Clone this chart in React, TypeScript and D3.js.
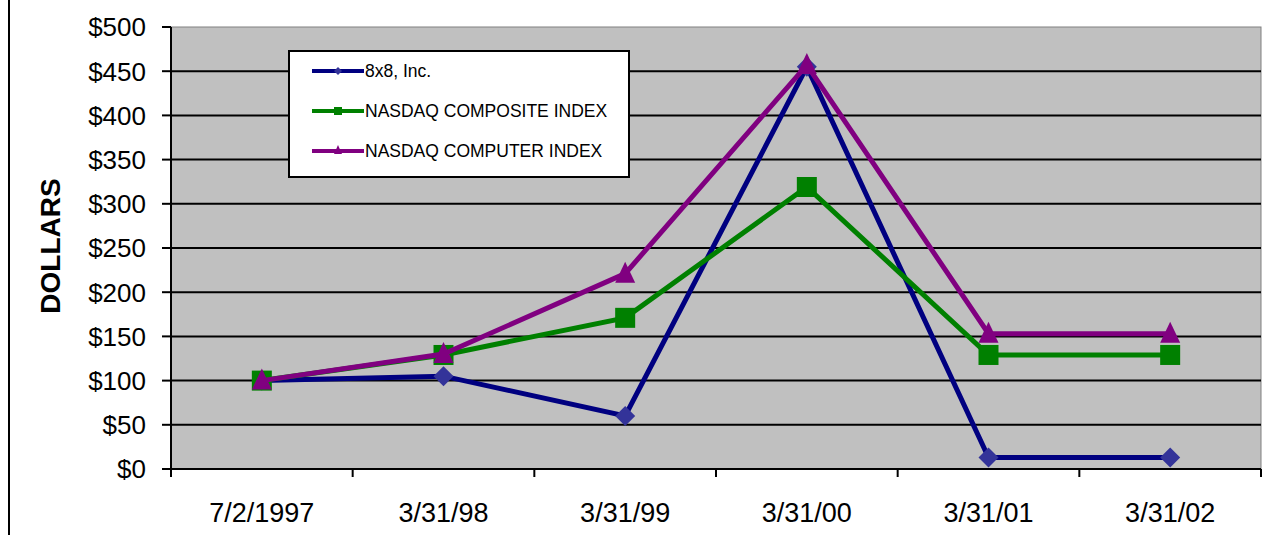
import React from "react";
import * as d3 from "d3";

const categories = ["7/2/1997", "3/31/98", "3/31/99", "3/31/00", "3/31/01", "3/31/02"];
const eightByEight = [100, 105, 60, 455, 13, 13];
const nasdaqComposite = [100, 129, 171, 319, 129, 129];
const nasdaqComputer = [100, 130, 221, 457, 153, 153];
const yTicks = [0, 50, 100, 150, 200, 250, 300, 350, 400, 450, 500];
const seriesNames = ["8x8, Inc.", "NASDAQ COMPOSITE INDEX", "NASDAQ COMPUTER INDEX"];

const W = 1265, H = 535;
const L = 171, R = 1261, T = 27, B = 469;

export default function App() {
  const x = d3.scaleBand().domain(categories).range([L, R]);
  const y = d3.scaleLinear().domain([0, 500]).range([B, T]);
  const line = d3.line<number>().x((_, i) => x(categories[i])! + x.bandwidth() / 2).y(d => y(d));
  const series = [
    { name: seriesNames[0], data: eightByEight, color: "#000080", marker: "diamond", fill: "#333399" },
    { name: seriesNames[1], data: nasdaqComposite, color: "#008000", marker: "square", fill: "#008000" },
    { name: seriesNames[2], data: nasdaqComputer, color: "#800080", marker: "triangle", fill: "#800080" },
  ];
  const marker = (type: string, cx: number, cy: number, fill: string, s = 10) => {
    if (type === "diamond") return <path d={`M${cx},${cy - s} L${cx + s},${cy} L${cx},${cy + s} L${cx - s},${cy} Z`} fill={fill} />;
    if (type === "square") return <rect x={cx - s} y={cy - s} width={2 * s} height={2 * s} fill={fill} />;
    return <path d={`M${cx},${cy - s - 2} L${cx + s},${cy + s - 1} L${cx - s},${cy + s - 1} Z`} fill={fill} />;
  };
  const font = "Arial, 'Liberation Sans', sans-serif";
  const legendRows = [71, 111, 151];
  return (
    <svg width={W} height={H} style={{ position: "absolute", left: 0, top: 0, background: "#fff" }} fontFamily={font}>
      <line x1={9} y1={0} x2={9} y2={H} stroke="#000" strokeWidth={2} />
      <rect x={L} y={T} width={R - L} height={B - T} fill="#c0c0c0" stroke="#808080" strokeWidth={1} />
      {yTicks.map(t => (
        <g key={t}>
          {t > 0 && t < 500 && <line x1={L} x2={R} y1={y(t)} y2={y(t)} stroke="#000" strokeWidth={2} />}
          <line x1={162} x2={L} y1={y(t)} y2={y(t)} stroke="#000" strokeWidth={2} />
          <text x={146} y={y(t)} dy="0.36em" textAnchor="end" fontSize={26} fill="#000">${t}</text>
        </g>
      ))}
      <line x1={L} x2={L} y1={T} y2={B} stroke="#000" strokeWidth={2} />
      <line x1={L} x2={R} y1={B} y2={B} stroke="#000" strokeWidth={2} />
      {categories.map((c, i) => (
        <g key={c}>
          <line x1={x(c)!} x2={x(c)!} y1={B} y2={B + 8} stroke="#000" strokeWidth={2} />
          {i === categories.length - 1 && <line x1={R} x2={R} y1={B} y2={B + 8} stroke="#000" strokeWidth={2} />}
          <text x={x(c)! + x.bandwidth() / 2} y={522} textAnchor="middle" fontSize={27} fill="#000">{c}</text>
        </g>
      ))}
      <text transform={`translate(60,246) rotate(-90)`} textAnchor="middle" fontSize={28} fontWeight="bold" fill="#000">DOLLARS</text>
      <rect x={289} y={51} width={340} height={126} fill="#fff" stroke="#000" strokeWidth={2} />
      {series.map((s, i) => (
        <g key={s.name}>
          <line x1={312} x2={364} y1={legendRows[i]} y2={legendRows[i]} stroke={s.color} strokeWidth={4} />
          {marker(s.marker, 338, legendRows[i], s.fill, 4)}
          <text x={365} y={legendRows[i]} dy="0.36em" fontSize={17.5} fill="#000">{s.name}</text>
        </g>
      ))}
      {series.map(s => (
        <g key={s.name}>
          <path d={line(s.data)!} fill="none" stroke={s.color} strokeWidth={5} strokeLinejoin="miter" />
          {s.data.map((v, i) => (
            <g key={i}>{marker(s.marker, x(categories[i])! + x.bandwidth() / 2, y(v), s.fill, 10)}</g>
          ))}
        </g>
      ))}
    </svg>
  );
}
